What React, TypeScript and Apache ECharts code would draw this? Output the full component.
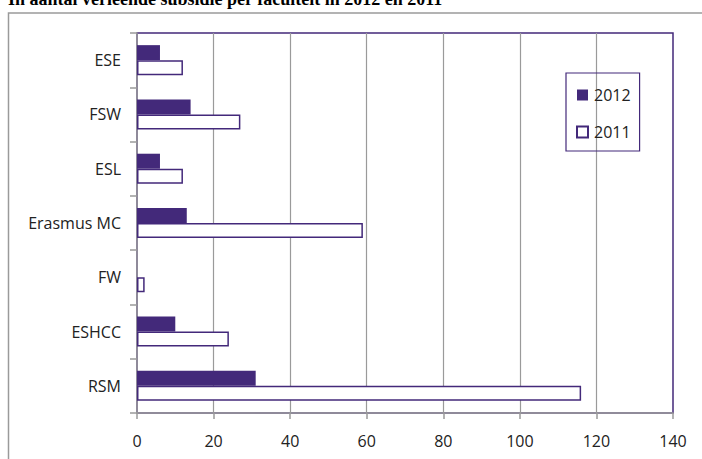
import React, { useEffect, useRef } from "react";
import * as echarts from "echarts";

const categories = ["ESE", "FSW", "ESL", "Erasmus MC", "FW", "ESHCC", "RSM"];
const values2012 = [6, 14, 6, 13, 0, 10, 31];
const values2011 = [12, 27, 12, 59, 2, 24, 116];
const seriesNames = ["2012", "2011"];
const titleText = "In aantal verleende subsidie per faculteit in 2012 en 2011";

const PURPLE = "#43297a";
const FONT = "Open Sans";

export default function App() {
  const ref = useRef<HTMLDivElement>(null);
  useEffect(() => {
    if (!ref.current) return;
    const chart = echarts.init(ref.current, null, { renderer: "svg" });
    chart.setOption({
      animation: false,
      backgroundColor: "#ffffff",
      graphic: [
        {
          type: "rect",
          shape: { x: 8.5, y: 13, width: 720, height: 480 },
          style: { fill: "none", stroke: "#9a9a9a", lineWidth: 1.5 },
          z: 0,
        },
        {
          type: "text",
          left: 8,
          top: -10,
          style: {
            text: titleText,
            font: "bold 18px 'Liberation Serif'",
            fill: "#000",
          },
        },
      ],
      grid: {
        left: 137,
        right: 29,
        top: 33,
        bottom: 46,
        show: true,
        borderColor: PURPLE,
        borderWidth: 1.5,
      },
      legend: {
        orient: "vertical",
        left: 566,
        top: 73,
        padding: [12, 9, 9, 10],
        itemGap: 17,
        itemWidth: 11,
        itemHeight: 11,
        icon: "rect",
        borderColor: PURPLE,
        borderWidth: 1.2,
        data: seriesNames,
        textStyle: {
          fontFamily: FONT,
          fontSize: 16,
          color: "#222",
          lineHeight: 20,
          padding: [0, 0, 0, 1],
        },
      },
      xAxis: {
        type: "value",
        min: 0,
        max: 140,
        interval: 20,
        axisLine: { show: true, lineStyle: { color: "#9a9a9a", width: 1.5 } },
        axisTick: { show: true, length: 6, lineStyle: { color: "#9a9a9a", width: 1.5 } },
        axisLabel: { fontFamily: FONT, fontSize: 16, color: "#222", margin: 20 },
        splitLine: {
          show: true,
          showMinLine: false,
          showMaxLine: false,
          lineStyle: { color: "#9a9a9a", width: 1.2 },
        },
      },
      yAxis: {
        type: "category",
        data: categories,
        inverse: true,
        axisLine: { show: true, lineStyle: { color: "#9a9a9a", width: 1.5 } },
        axisTick: { show: true, length: 7, lineStyle: { color: "#9a9a9a", width: 1.5 } },
        axisLabel: { fontFamily: FONT, fontSize: 16, color: "#222", margin: 16 },
      },
      series: [
        {
          name: seriesNames[0],
          type: "bar",
          data: values2012,
          barWidth: 15,
          barGap: "0%",
          itemStyle: { color: PURPLE, borderColor: PURPLE, borderWidth: 0 },
        },
        {
          name: seriesNames[1],
          type: "bar",
          data: values2011,
          barWidth: 15,
          barGap: "0%",
          itemStyle: { color: "#ffffff", borderColor: PURPLE, borderWidth: 1.5 },
        },
      ],
    });
    return () => chart.dispose();
  }, []);
  return (
    <div
      ref={ref}
      style={{ position: "fixed", left: 0, top: 0, width: 702, height: 459 }}
    />
  );
}
